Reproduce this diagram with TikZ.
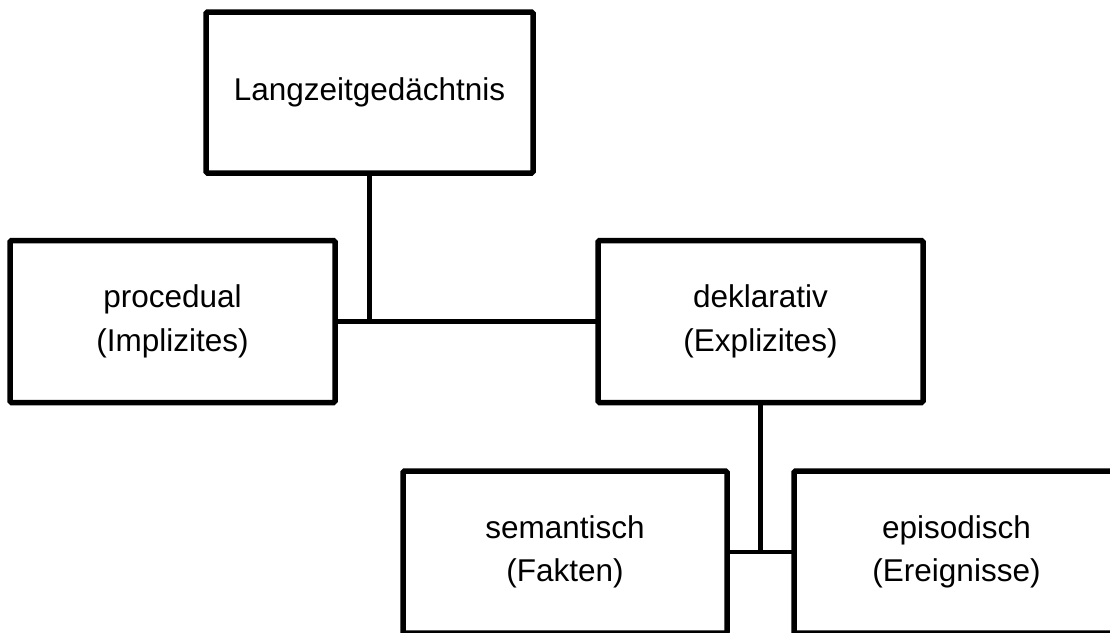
\documentclass[tikz,border=0pt]{standalone}
\usepackage{fontspec}
\setmainfont{Liberation Sans}
\begin{document}
\begin{tikzpicture}[x=1pt,y=-1pt,
  box/.style={draw=black, line width=5.5pt, rounded corners=1.5pt, fill=white,
    minimum width=325pt, minimum height=162pt, inner sep=0pt, outer sep=0pt,
    align=center, font=\fontsize{31.5}{43.5}\selectfont},
  link/.style={draw=black, line width=4.8pt}]
\useasboundingbox (0,0) rectangle (1110,632);
\clip (0,0) rectangle (1110,632);
\fill[white] (0,0) rectangle (1110,632);
\node[box, minimum width=327pt, minimum height=161pt] (ltm) at (369.5,92.5) {Langzeitgedächtnis};
\node[box] (proc) at (172.5,321.5) {procedual\\(Implizites)};
\node[box] (dekl) at (760.5,321.5) {deklarativ\\(Explizites)};
\node[box, minimum width=324pt] (sem) at (565,552) {semantisch\\(Fakten)};
\node[box] (epi) at (956.5,552) {episodisch\\(Ereignisse)};
\coordinate (j1) at (ltm.south |- proc.east);
\coordinate (j2) at (dekl.south |- sem.east);
\draw[link] (ltm.south) -- (j1);
\draw[link] (proc.east) -- (dekl.west);
\draw[link] (dekl.south) -- (j2);
\draw[link] (sem.east) -- (epi.west);
\end{tikzpicture}
\end{document}
